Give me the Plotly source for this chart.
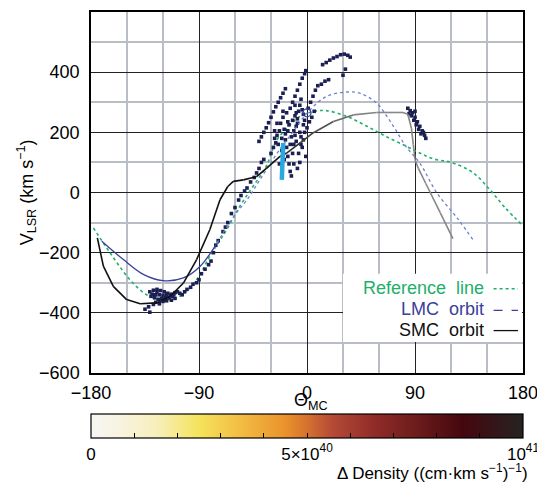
import plotly.graph_objects as go

# ---------------- data ----------------
ref_x = [-178, -164, -147.5, -133.6, -120, -106, -92, -81, -67, -56, -45, -34, -25, -14, -6, 5, 16, 33, 50, 66, 83, 94, 105, 120, 138, 152, 165, 180]
ref_y = [-118, -201, -290, -340, -357, -345, -290, -212, -124, -46, 20, 87, 175, 225, 253, 269, 272, 253, 220, 186, 153, 131, 112, 100, 67, 11, -50, -111]

lmc_x = [-171, -153, -136, -120, -103, -89, -75, -61, -50, -38, -25, -12, 0, 16, 33, 44, 58, 72, 83, 94, 108, 126, 139]
lmc_y = [-162, -223, -273, -293, -284, -245, -168, -79, -24, 50, 130, 200, 264, 319, 334, 330, 297, 220, 150, 98, 0, -89, -161]

smc_x = [-174.7, -169.7, -161.4, -150.3, -139, -125.3, -114, -103, -92, -81, -72.5, -66, -61.4, -53, -42, -33.6, -22.5, -17, -6, 5, 22, 38.6, 58, 80, 84, 87, 88.6, 90, 92.8, 99, 111, 121.6]
smc_y = [-151, -245, -312, -356, -370, -367, -345, -301, -223, -124, -24, 20, 37, 42, 53, 81, 120, 131, 164, 198, 236, 258, 266, 266, 260, 214, 159, 110, 80, 30, -67, -153]

hi_x = [-19.8, -21.0]
hi_y = [165, 42]

lmc_pos_x = [0]
lmc_pos_y = [265]

obs_x = [
    # low-velocity clump
    -131, -128, -125, -122, -119, -116, -113, -110, -108, -106, -130, -127, -124, -121, -118, -115, -112,
    -126, -123, -120, -117, -128, -132, -135, -131, -110, -104, -102, -100,
    -129, -126, -123, -120, -117, -114, -111, -125, -119, -113,
    # trail
    -97, -95, -92, -90, -88, -85, -82, -80, -78, -76, -74, -70, -68, -66, -63, -60, -57, -55, -52, -50,
    -47, -44, -42, -40, -38, -36,
    # streak
    -40, -38, -36, -34, -32, -30, -28, -26, -24, -22, -20, -18,
    # main cloud
    -30, -28, -26, -25, -23, -22, -20, -19, -18, -17, -16, -15, -14, -13, -12, -11, -10, -9, -8, -7, -6, -5,
    -4, -3, -2, 0, 2, -1, -6, -8, -10, -12, -14, -12, -10, -8, -6, -4, -2, -1, -9, -15, -17, -3, 1, 3, 5, 7,
    9, 12, 15, 18, 4, 6, -25, -27, -21, -19, -23, -11, -7, -5,
    -24, -21, -18, -16, -13, -9, -6, -3, -14, -11, -8, -5, -2, -16, -20, -27, -10, -4,
    # top streak
    13, 16, 19, 22, 25, 28, 31, 34, 36, 30, 32,
    # right clump
    84, 86, 88, 87, 90, 89, 92, 91, 94, 93, 96, 95, 98, 99, 97, 85, 90,
]
obs_y = [
    -330, -325, -322, -326, -330, -335, -338, -333, -330, -335, -345, -350, -355, -352, -348, -350, -345,
    -365, -370, -362, -360, -372, -380, -388, -398, -352, -340, -330, -322,
    -338, -340, -340, -342, -340, -342, -340, -330, -357, -358,
    -315, -305, -300, -290, -270, -255, -240, -228, -200, -175, -160, -130, -115, -100, -70, -50, -25, -10, 5, 15,
    35, 50, 65, 80, 100, 110,
    170, 185, 200, 215, 232, 250, 268, 285, 300, 315, 330, 345,
    130, 150, 165, 190, 205, 230, 250, 210, 175, 150, 120, 95, 70, 55, 130, 160, 190, 220, 245, 270, 290, 310,
    150, 175, 200, 215, 235, 120, 100, 80, 255, 240, 280, 300, 320, 340, 360, 380, 395, 405, 265, 225, 265, 260, 280, 300, 320, 340,
    355, 360, 370, 375, 250, 270, 230, 205, 140, 110, 95, 95, 130, 160,
    160, 180, 195, 205, 185, 170, 200, 225, 160, 205, 230, 185, 240, 235, 270, 180, 290, 275,
    425, 432, 440, 447, 452, 458, 460, 456, 450, 390, 410,
    280, 272, 265, 255, 250, 240, 235, 225, 220, 210, 205, 195, 190, 180, 200, 262, 270,
]

x_ticks = [-180, -90, 0, 90, 180]
y_ticks = [-600, -400, -200, 0, 200, 400]
cb_tickvals = [0, 1e40, 2e40, 3e40, 4e40, 5e40, 6e40, 7e40, 8e40, 9e40, 1e41]
cb_ticktext = ["0", "", "", "", "", "5×10<sup>40</sup>", "", "", "", "", "10<sup>41</sup>"]

legend_labels = ["Reference  line", "LMC  orbit", "SMC  orbit"]

# ---------------- styling ----------------
FONT = "Liberation Sans"
GREEN = "#20b06a"
NAVY = "#1c1f52"

colorscale = [
    [0.0, "#f6f6f3"], [0.05, "#f7f4e6"], [0.15, "#f7efbd"], [0.25, "#f5e35c"],
    [0.35, "#f2bb42"], [0.45, "#ea922c"], [0.5, "#d5722f"], [0.56, "#b44a36"],
    [0.66, "#8e2b28"], [0.76, "#6a1b1b"], [0.86, "#45070e"], [1.0, "#252323"],
]

fig = go.Figure()

# reference line
fig.add_trace(go.Scatter(x=ref_x, y=ref_y, mode="lines", line=dict(color=GREEN, width=1.6, dash="dot"),
                         line_shape="spline", hoverinfo="skip"))

# observation points
fig.add_trace(go.Scatter(x=obs_x, y=obs_y, mode="markers",
                         marker=dict(color=NAVY, size=3.6, symbol="square"), hoverinfo="skip"))

# LMC orbit: darker solid part on the left, lighter dotted part further on
split_l = 6
fig.add_trace(go.Scatter(x=lmc_x[:split_l + 1], y=lmc_y[:split_l + 1], mode="lines",
                         line=dict(color="#3a409c", width=1.3), line_shape="spline", hoverinfo="skip"))
fig.add_trace(go.Scatter(x=lmc_x[split_l:], y=lmc_y[split_l:], mode="lines",
                         line=dict(color="#6f80d0", width=1.3, dash="dot"), line_shape="spline", hoverinfo="skip"))

# SMC orbit, fading from black to grey
def lerp(c0, c1, t):
    return "rgb(%d,%d,%d)" % tuple(round(a + (b - a) * t) for a, b in zip(c0, c1))

n = len(smc_x)
for i in range(n - 1):
    xm = 0.5 * (smc_x[i] + smc_x[i + 1])
    t = min(max((xm + 30) / 80.0, 0.0), 1.0)
    fig.add_trace(go.Scatter(x=smc_x[i:i + 2], y=smc_y[i:i + 2], mode="lines",
                             line=dict(color=lerp((17, 17, 17), (135, 135, 135), t), width=1.6),
                             hoverinfo="skip"))

# HI bar
fig.add_trace(go.Scatter(x=hi_x, y=hi_y, mode="lines", line=dict(color="#2aa9e0", width=4.5), hoverinfo="skip"))
fig.add_trace(go.Scatter(x=lmc_pos_x, y=lmc_pos_y, mode="markers",
                         marker=dict(symbol="circle-open", size=8, color="#3a409c", line=dict(width=1.3)),
                         hoverinfo="skip"))

# colour bar carrier
fig.add_trace(go.Scatter(
    x=[0, 0], y=[0, 0], mode="markers", hoverinfo="skip",
    marker=dict(size=1, opacity=0, color=[0, 1e41], cmin=0, cmax=1e41, colorscale=colorscale, showscale=True,
                colorbar=dict(orientation="h", x=0.5, xanchor="center", y=-0.1136, yanchor="top",
                              lenmode="pixels", len=432, thickness=24, xpad=0, ypad=0,
                              outlinewidth=1.2, outlinecolor="black",
                              tickvals=cb_tickvals, ticktext=cb_ticktext, ticks="inside", ticklen=5,
                              tickcolor="black", tickfont=dict(family=FONT, size=17, color="black"))),
))

# legend box
fig.add_shape(type="rect", xref="x", yref="y", x0=30, x1=179.2, y0=-497, y1=-270,
              fillcolor="white", line=dict(width=0), layer="above")
leg_y_text = [-317, -387, -456]
leg_y_line = [-320, -392, -459]
leg_colors = [GREEN, "#3a409c", "#111111"]
leg_dash = ["dot", "dash", "solid"]
for lab, yt, yl, c, d in zip(legend_labels, leg_y_text, leg_y_line, leg_colors, leg_dash):
    fig.add_annotation(x=149, y=yt, xref="x", yref="y", text=lab, showarrow=False, xanchor="right",
                       yanchor="middle", font=dict(family=FONT, size=18, color=c))
    fig.add_shape(type="line", xref="x", yref="y", x0=155.5, x1=175.8, y0=yl, y1=yl,
                  line=dict(color=c, width=1.3, dash=d), layer="above")

# axis titles
fig.add_annotation(x=0.465, y=-0.080, xref="paper", yref="paper", text="Θ<sub>MC</sub>", showarrow=False,
                   xanchor="left", yanchor="middle", font=dict(family=FONT, size=18, color="black"))
fig.add_annotation(x=-0.150, y=0.501, xref="paper", yref="paper", text="V<sub>LSR</sub> (km s<sup>−1</sup>)",
                   showarrow=False, textangle=-90, xanchor="center", yanchor="middle",
                   font=dict(family=FONT, size=18, color="black"))
fig.add_annotation(x=1.017, y=-0.275, xref="paper", yref="paper",
                   text="Δ Density ((cm·km s<sup>−1</sup>)<sup>−1</sup>)", showarrow=False,
                   xanchor="right", yanchor="middle", font=dict(family=FONT, size=17, color="black"))

fig.update_layout(
    width=537, height=475,
    margin=dict(l=83, r=22, t=4, b=110, autoexpand=False),
    paper_bgcolor="white", plot_bgcolor="white",
    showlegend=False,
    font=dict(family=FONT, size=18, color="black"),
    xaxis=dict(range=[-180, 180], tickvals=x_ticks, showgrid=True, gridcolor="#222222", gridwidth=1.4,
               zeroline=False, showline=True, mirror=True, linecolor="black", linewidth=1.5,
               ticks="outside", ticklen=3, tickcolor="rgba(0,0,0,0)",
               tickfont=dict(family=FONT, size=18), automargin=False,
               minor=dict(tickvals=[-150, -120, -60, -30, 30, 60, 120, 150], showgrid=True,
                          gridcolor="#b9bdc6", gridwidth=1.5, ticks="")),
    yaxis=dict(range=[-600, 600], tickvals=y_ticks, showgrid=True, gridcolor="#222222", gridwidth=1.4,
               zeroline=False, showline=True, mirror=True, linecolor="black", linewidth=1.5,
               ticks="outside", ticklen=6, tickcolor="rgba(0,0,0,0)",
               tickfont=dict(family=FONT, size=18), automargin=False,
               minor=dict(tickvals=[-500, -300, -100, 100, 300, 500], showgrid=True,
                          gridcolor="#b9bdc6", gridwidth=1.5, ticks="")),
)

fig.write_html("out.html")
